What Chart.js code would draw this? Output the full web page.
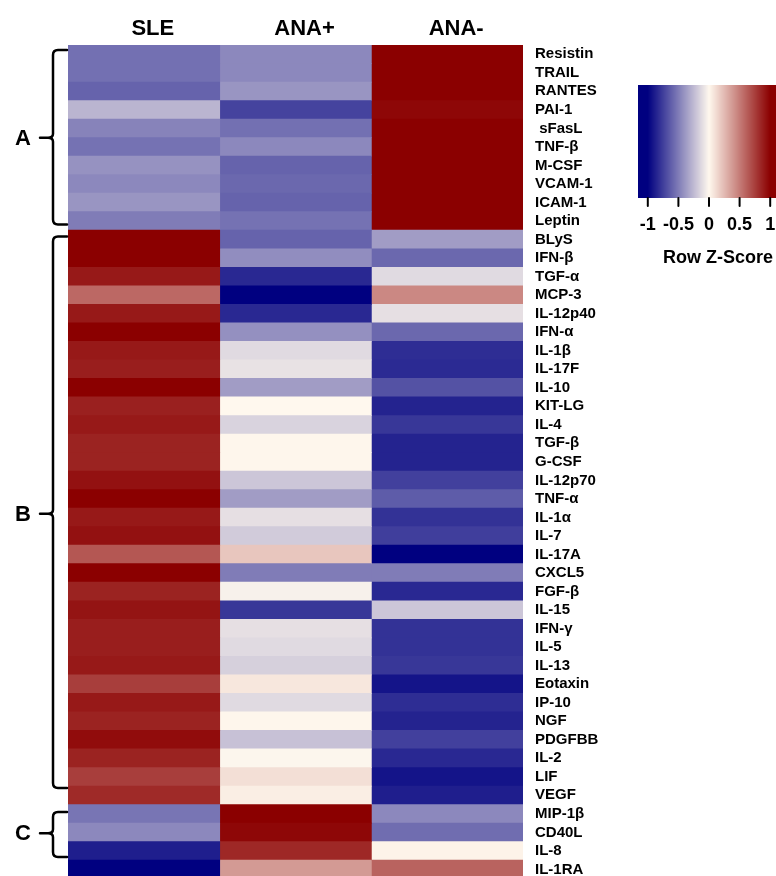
<!DOCTYPE html>
<html>
<head>
<meta charset="utf-8">
<script src="https://cdn.jsdelivr.net/npm/chart.js@4/dist/chart.umd.min.js"></script>
<style>
  html, body { margin:0; padding:0; background:#fff; overflow:hidden; }
  #wrap { width:776px; height:876px; overflow:hidden; position:relative; }
  canvas { position:absolute; left:0; top:0; }
</style>
</head>
<body>
<div id="wrap"><canvas id="heatmap" width="776" height="900"></canvas></div>
<script>
// Linhas (citocinas) e colunas
const rows = ['Resistin','TRAIL','RANTES','PAI-1',' sFasL','TNF-β','M-CSF','VCAM-1','ICAM-1','Leptin',
  'BLyS','IFN-β','TGF-α','MCP-3','IL-12p40','IFN-α','IL-1β','IL-17F','IL-10','KIT-LG','IL-4','TGF-β',
  'G-CSF','IL-12p70','TNF-α','IL-1α','IL-7','IL-17A','CXCL5','FGF-β','IL-15','IFN-γ','IL-5','IL-13',
  'Eotaxin','IP-10','NGF','PDGFBB','IL-2','LIF','VEGF','MIP-1β','CD40L','IL-8','IL-1RA'];
const columns = ['SLE','ANA+','ANA-'];

// Row Z-scores por grupo
const sle = [-0.55,-0.55,-0.6,-0.27,-0.47,-0.54,-0.41,-0.45,-0.4,-0.5,
  1,1,0.9,0.58,0.9,1,0.9,0.88,1,0.87,0.9,0.86,
  0.86,0.93,1,0.9,0.93,0.65,1,0.86,0.92,0.88,0.88,0.9,
  0.75,0.9,0.86,0.95,0.86,0.75,0.83,-0.53,-0.45,-0.88,-1];
const anaPos = [-0.45,-0.45,-0.4,-0.73,-0.55,-0.45,-0.6,-0.58,-0.6,-0.54,
  -0.6,-0.43,-0.84,-1,-0.84,-0.42,-0.12,-0.09,-0.37,0,-0.15,0.01,
  0.01,-0.2,-0.37,-0.1,-0.18,0.2,-0.5,-0.03,-0.78,-0.1,-0.12,-0.16,
  0.07,-0.12,0.01,-0.22,-0.01,0.1,0.04,1,0.97,0.84,0.38];
const anaNeg = [1,1,1,0.97,1,1,1,1,1,1,
  -0.37,-0.58,-0.12,0.45,-0.1,-0.58,-0.82,-0.83,-0.67,-0.86,-0.78,-0.86,
  -0.86,-0.74,-0.63,-0.8,-0.75,-1,-0.5,-0.84,-0.2,-0.8,-0.8,-0.78,
  -0.92,-0.82,-0.86,-0.74,-0.84,-0.92,-0.88,-0.45,-0.56,0.02,0.6];

// Escala da legenda
const zTicks = [-1,-0.5,0,0.5,1];

// Grupos (em unidades de linha)
const groupLabels = ['A','B','C'];
const groupTop = [0.27,10.34,41.4];
const groupBottom = [9.69,40.1,43.83];
const groupMid = [5.0,25.3,42.55];

const FONT = '"Liberation Sans", Arial, sans-serif';
const NAVY = [0,0,128], MID = [255,248,238], RED = [139,0,0];

function zColor(z){
  z = Math.max(-1, Math.min(1, z));
  const a = z < 0 ? NAVY : RED;
  const t = Math.abs(z);
  const c = MID.map((m,i)=>Math.round(m + (a[i]-m)*t));
  return `rgb(${c[0]},${c[1]},${c[2]})`;
}

// Colchetes, letras e barra de cores
const extras = {
  id:'extras',
  afterDraw(chart){
    const ctx = chart.ctx;
    const y = chart.scales.y;
    const rowPx = r => y.getPixelForValue(r - 0.5);
    ctx.save();
    ctx.strokeStyle = '#000';
    ctx.fillStyle = '#000';
    ctx.lineWidth = 2.5;
    ctx.lineCap = 'round';
    groupLabels.forEach((g,i)=>{
      const t = rowPx(groupTop[i]), b = rowPx(groupBottom[i]), m = rowPx(groupMid[i]);
      const x = 53;
      ctx.beginPath();
      ctx.moveTo(67, t);
      ctx.lineTo(58, t);
      ctx.quadraticCurveTo(x, t, x, t+5);
      ctx.lineTo(x, m-4);
      ctx.quadraticCurveTo(x, m, x-5, m);
      ctx.lineTo(40, m);
      ctx.moveTo(x-5, m);
      ctx.quadraticCurveTo(x, m, x, m+4);
      ctx.lineTo(x, b-5);
      ctx.quadraticCurveTo(x, b, 58, b);
      ctx.lineTo(67, b);
      ctx.stroke();
      ctx.font = 'bold 22px ' + FONT;
      ctx.textAlign = 'center';
      ctx.textBaseline = 'middle';
      ctx.fillText(g, 23, m+1);
    });

    // barra de cores
    const x0 = 709, unit = 61.2, top = 85, bot = 198;
    for (let px = 638; px < 776; px++){
      ctx.fillStyle = zColor((px + 0.5 - x0) / unit);
      ctx.fillRect(px, top, 1, bot - top);
    }
    ctx.fillStyle = '#000';
    ctx.lineWidth = 2;
    ctx.font = 'bold 18px ' + FONT;
    ctx.textAlign = 'center';
    ctx.textBaseline = 'middle';
    zTicks.forEach(v=>{
      const px = x0 + v*unit;
      ctx.beginPath();
      ctx.moveTo(px, bot);
      ctx.lineTo(px, bot+8);
      ctx.stroke();
      ctx.fillText(String(v), px, 225);
    });
    ctx.fillText('Row Z-Score', 718, 258);
    ctx.restore();
  }
};

const series = [sle, anaPos, anaNeg];

new Chart(document.getElementById('heatmap'), {
  type:'bar',
  data:{
    labels: rows,
    datasets: series.map((vals,i)=>({
      label: columns[i],
      data: vals.map(()=>1),
      backgroundColor: vals.map(zColor),
      borderWidth: 0,
      inflateAmount: 0.4,
      barPercentage: 1,
      categoryPercentage: 1
    }))
  },
  options:{
    indexAxis:'y',
    responsive:false,
    animation:false,
    layout:{ padding:{ left:68, top:12.6, right:0, bottom:21.3 } },
    plugins:{ legend:{display:false}, tooltip:{enabled:false} },
    scales:{
      x:{
        type:'linear', position:'top', stacked:true, min:0, max:3,
        grid:{display:false, drawTicks:false}, border:{display:false},
        afterBuildTicks: s => { s.ticks = columns.map((c,i)=>({value:i+0.5})); },
        ticks:{
          padding:3, labelOffset:9, color:'#000',
          font:{family:FONT, size:22, weight:'bold'},
          callback:(v,i)=>columns[i]
        }
      },
      y:{
        position:'right', stacked:true,
        grid:{display:false, drawTicks:false}, border:{display:false},
        afterFit: s => { s.width = 776 - 523; },
        ticks:{
          padding:12, color:'#000', autoSkip:false,
          font:{family:FONT, size:15, weight:'bold'}
        }
      }
    }
  },
  plugins:[extras]
});
</script>
</body>
</html>
